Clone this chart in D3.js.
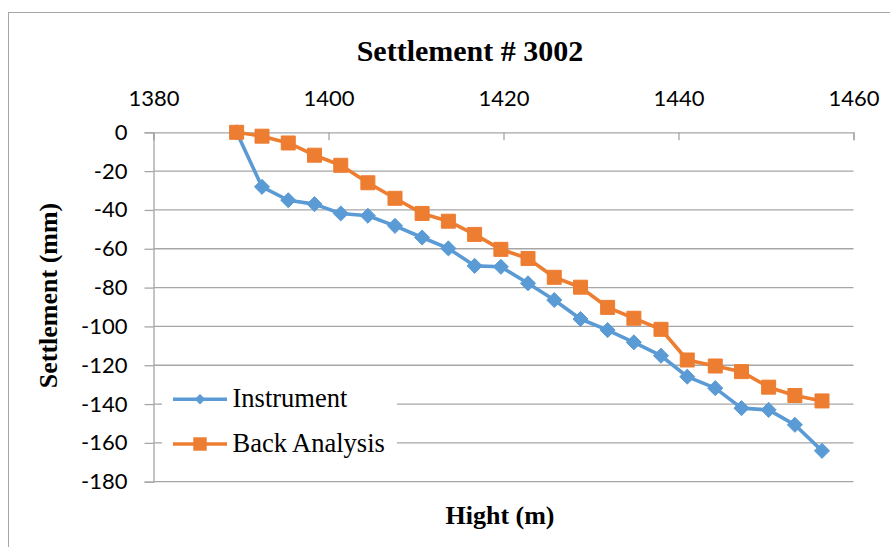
<!DOCTYPE html>
<html>
<head>
<meta charset="utf-8">
<script src="https://cdn.jsdelivr.net/npm/d3@7"></script>
<style>
  html, body { margin: 0; padding: 0; background: #fff; }
  svg { display: block; }
</style>
</head>
<body>
<svg id="chart" width="890" height="547"></svg>
<script>
// Survey station heights (m) shared by both series
const heights = [1389.5, 1392.4, 1395.4, 1398.4, 1401.4, 1404.5, 1407.6, 1410.7, 1413.7,
  1416.7, 1419.7, 1422.8, 1425.8, 1428.8, 1431.9, 1434.9, 1438.0, 1441.0, 1444.2,
  1447.2, 1450.3, 1453.3, 1456.4];
// Measured settlement (mm)
const instrument = [0, -28.1, -35, -37, -41.8, -43, -48.2, -54.2, -59.8, -68.8, -69.3,
  -77.8, -86.4, -96.2, -101.9, -108.2, -115.1, -125.9, -131.8, -142.1, -143, -150.7, -164.1];
// Back-analysis settlement (mm)
const backAnalysis = [0, -2, -5.5, -11.8, -17, -26, -34, -41.8, -45.8, -52.6, -60.3,
  -65, -74.7, -79.8, -90.2, -95.8, -101.5, -117.3, -120.4, -123.3, -131.3, -135.6, -138.4];
const xTicks = [1380, 1400, 1420, 1440, 1460];
const yTicks = [0, -20, -40, -60, -80, -100, -120, -140, -160, -180];
const seriesNames = ["Instrument", "Back Analysis"];

const BLUE = "#5b9bd5", ORANGE = "#ed7d31", GRID = "#a6a6a6";
const svg = d3.select("#chart");

// chart frame
svg.append("rect").attr("x", 8.5).attr("y", 12.5).attr("width", 900).attr("height", 560)
  .attr("fill", "#fff").attr("stroke", "#a6a6a6").attr("stroke-width", 1);

const x = d3.scaleLinear().domain([1380, 1460]).range([153.5, 853.5]);
const y = d3.scaleLinear().domain([0, -180]).range([132.3, 481.7]);

// horizontal gridlines
svg.append("g").selectAll("line").data(yTicks.filter(d => d !== 0)).join("line")
  .attr("x1", x(1380)).attr("x2", x(1460))
  .attr("y1", d => y(d)).attr("y2", d => y(d))
  .attr("stroke", GRID).attr("stroke-width", 1.3);

// value axis (left)
const yAxis = svg.append("g").attr("transform", `translate(${x(1380)},0)`)
  .call(d3.axisLeft(y).tickValues(yTicks).tickSize(9).tickPadding(17).tickFormat(d3.format("d")));
yAxis.select(".domain").attr("stroke", GRID).attr("stroke-width", 1.3);
yAxis.selectAll(".tick line").attr("stroke", GRID).attr("stroke-width", 1.3);
yAxis.selectAll(".tick text").attr("font-family", "Lato, sans-serif").attr("font-size", 22)
  .attr("fill", "#000").text(d => d3.format("d")(d).replace("\u2212", "-"));

// height axis along the zero line, labels above
const xAxis = svg.append("g").attr("transform", `translate(0,${y(0)})`)
  .call(d3.axisBottom(x).tickValues(xTicks).tickSize(8).tickFormat(d3.format("d")));
xAxis.select(".domain").attr("stroke", GRID).attr("stroke-width", 1.3);
xAxis.selectAll(".tick line").attr("stroke", GRID).attr("stroke-width", 1.3);
xAxis.selectAll(".tick text").attr("y", -26).attr("dy", 0)
  .attr("font-family", "Lato, sans-serif").attr("font-size", 22).attr("fill", "#000");

// series: diamonds for the instrument readings, squares for the back analysis
const series = [
  { name: seriesNames[0], values: instrument, color: BLUE, square: false },
  { name: seriesNames[1], values: backAnalysis, color: ORANGE, square: true }
];
const line = d3.line().x(d => x(d[0])).y(d => y(d[1]));

series.forEach(s => {
  const pts = heights.map((h, i) => [h, s.values[i]]);
  const g = svg.append("g");
  g.append("path").datum(pts).attr("d", line).attr("fill", "none")
    .attr("stroke", s.color).attr("stroke-width", 3.6).attr("stroke-linejoin", "round");
  const sym = s.square
    ? d3.symbol().type(d3.symbolSquare).size(196)
    : d3.symbol().type(d3.symbolDiamond2).size(145);
  g.selectAll("path.m").data(pts).join("path").attr("class", "m")
    .attr("transform", d => `translate(${x(d[0])},${y(d[1])})`)
    .attr("d", sym).attr("fill", s.color).attr("stroke", s.color).attr("stroke-width", 1);
});

// legend
const lg = svg.append("g");
lg.append("rect").attr("x", 162).attr("y", 376).attr("width", 235).attr("height", 94).attr("fill", "#fff");
series.forEach((s, i) => {
  const cy = 399.3 + i * 44.7;
  lg.append("line").attr("x1", 173).attr("x2", 227).attr("y1", cy).attr("y2", cy)
    .attr("stroke", s.color).attr("stroke-width", 3.6);
  const sym = s.square
    ? d3.symbol().type(d3.symbolSquare).size(180)
    : d3.symbol().type(d3.symbolDiamond2).size(70);
  lg.append("path").attr("transform", `translate(200,${cy})`).attr("d", sym).attr("fill", s.color);
  lg.append("text").attr("x", 232.5).attr("y", cy + 7.5)
    .attr("font-family", "'Liberation Serif', 'Times New Roman', serif").attr("font-size", 26.5)
    .attr("fill", "#000").text(s.name);
});

// titles
svg.append("text").attr("x", 470).attr("y", 61).attr("text-anchor", "middle")
  .attr("font-family", "'Liberation Serif', 'Times New Roman', serif").attr("font-weight", "bold")
  .attr("font-size", 30).attr("fill", "#000").text("Settlement # 3002");
svg.append("text").attr("x", 500).attr("y", 524).attr("text-anchor", "middle")
  .attr("font-family", "'Liberation Serif', 'Times New Roman', serif").attr("font-weight", "bold")
  .attr("font-size", 26).attr("fill", "#000").text("Hight (m)");
svg.append("text").attr("transform", "translate(56.5,295.5) rotate(-90)").attr("text-anchor", "middle")
  .attr("font-family", "'Liberation Serif', 'Times New Roman', serif").attr("font-weight", "bold")
  .attr("font-size", 26).attr("fill", "#000").text("Settlement (mm)");
</script>
</body>
</html>
